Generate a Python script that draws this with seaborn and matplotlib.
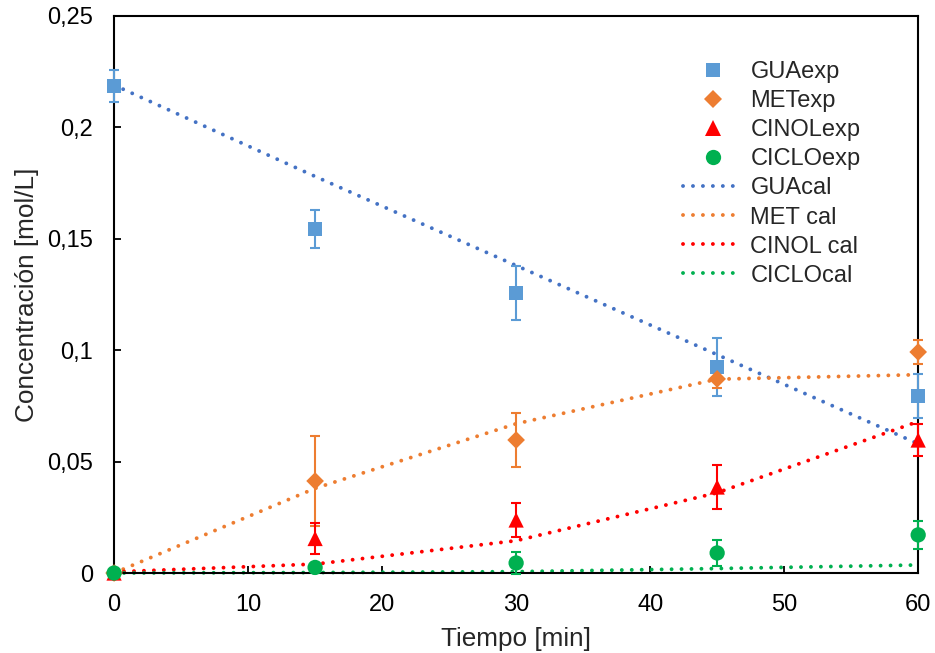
import numpy as np
import pandas as pd
import matplotlib
matplotlib.use("Agg")
import matplotlib.pyplot as plt
import seaborn as sns
from matplotlib.lines import Line2D
from matplotlib.ticker import FuncFormatter

# experimental data
t_exp = [0, 15, 30, 45, 60]
gua_exp = [0.2186, 0.1544, 0.1257, 0.0925, 0.0794]
gua_err = [0.007, 0.0085, 0.012, 0.013, 0.010]
met_exp = [0.0, 0.0413, 0.0597, 0.0871, 0.0992]
met_err = [0.0, 0.020, 0.012, 0.004, 0.0054]
cinol_exp = [0.0, 0.0155, 0.0238, 0.0386, 0.0597]
cinol_err = [0.0, 0.007, 0.0077, 0.0099, 0.0074]
ciclo_exp = [0.0, 0.0025, 0.0045, 0.0090, 0.0171]
ciclo_err = [0.0, 0.0, 0.005, 0.0058, 0.0063]

# calculated (model) data
t_cal = [0, 15, 30, 45, 60]
gua_cal = [0.219, 0.178, 0.138, 0.098, 0.058]
met_cal = [0.0, 0.038, 0.067, 0.087, 0.089]
cinol_cal = [0.0005, 0.004, 0.0145, 0.036, 0.068]
ciclo_cal = [0.0, 0.0002, 0.0006, 0.0020, 0.0036]

series = [
    ("GUA", gua_exp, gua_err, gua_cal, "#5B9BD5", "#4472C4", "s", 10, "GUAexp", "GUAcal"),
    ("MET", met_exp, met_err, met_cal, "#ED7D31", "#ED7D31", "D", 9, "METexp", "MET cal"),
    ("CINOL", cinol_exp, cinol_err, cinol_cal, "#FF0000", "#FF0000", "^", 11, "CINOLexp", "CINOL cal"),
    ("CICLO", ciclo_exp, ciclo_err, ciclo_cal, "#00B050", "#00B050", "o", 11, "CICLOexp", "CICLOcal"),
]

sns.set_style("white")
plt.rcParams["font.family"] = ["Liberation Sans", "DejaVu Sans"]

fig, ax = plt.subplots(figsize=(9.35, 6.53), dpi=100)
fig.subplots_adjust(left=0.122, right=0.982, top=0.9755, bottom=0.1225)

dotted = (0, (0.01, 2.55))

for name, yexp, yerr, ycal, mcol, lcol, mk, ms, lab_e, lab_c in series:
    cal_df = pd.DataFrame({"t": t_cal, "c": ycal})
    sns.lineplot(data=cal_df, x="t", y="c", ax=ax, color=lcol, lw=2.8,
                 linestyle=dotted, dash_capstyle="round", zorder=2,
                 legend=False, clip_on=False)

for name, yexp, yerr, ycal, mcol, lcol, mk, ms, lab_e, lab_c in series:
    ax.errorbar(t_exp, yexp, yerr=yerr, fmt="none", ecolor=mcol,
                elinewidth=1.5, capsize=3.5, capthick=1.5, zorder=3, clip_on=False)
    exp_df = pd.DataFrame({"t": t_exp, "c": yexp})
    sns.scatterplot(data=exp_df, x="t", y="c", ax=ax, color=mcol, marker=mk,
                    s=ms ** 2, edgecolor="none", zorder=4, legend=False,
                    clip_on=False)

ax.set_xlim(0, 60)
ax.set_ylim(0, 0.25)
ax.set_xticks([0, 10, 20, 30, 40, 50, 60])
ax.set_yticks([0, 0.05, 0.1, 0.15, 0.2, 0.25])
ax.yaxis.set_major_formatter(FuncFormatter(lambda v, p: ("%g" % round(v, 2)).replace(".", ",")))
ax.tick_params(axis="both", direction="in", length=5, width=1.3, labelsize=17,
               colors="black")
ax.tick_params(axis="y", left=True, pad=15)
ax.tick_params(axis="x", bottom=True, pad=15)
for sp in ax.spines.values():
    sp.set_visible(True)
    sp.set_color("black")
    sp.set_linewidth(1.5)

ax.set_xlabel("Tiempo [min]", fontsize=18.8, labelpad=8)
ax.set_ylabel("Concentración [mol/L]", fontsize=18.8, labelpad=6)

handles = []
labels = []
for name, yexp, yerr, ycal, mcol, lcol, mk, ms, lab_e, lab_c in series:
    handles.append(Line2D([], [], color=mcol, marker=mk, linestyle="none",
                          markersize=ms, markeredgewidth=0))
    labels.append(lab_e)
for name, yexp, yerr, ycal, mcol, lcol, mk, ms, lab_e, lab_c in series:
    handles.append(Line2D([], [], color=lcol, lw=2.8, linestyle=dotted,
                          dash_capstyle="round"))
    labels.append(lab_c)

ax.legend(handles, labels, loc="upper left", bbox_to_anchor=(0.708, 0.919),
          frameon=False, fontsize=17, handlelength=2.5, handletextpad=0.34,
          labelspacing=0.3, borderpad=0, borderaxespad=0)

fig.savefig("out.png", dpi=100)
